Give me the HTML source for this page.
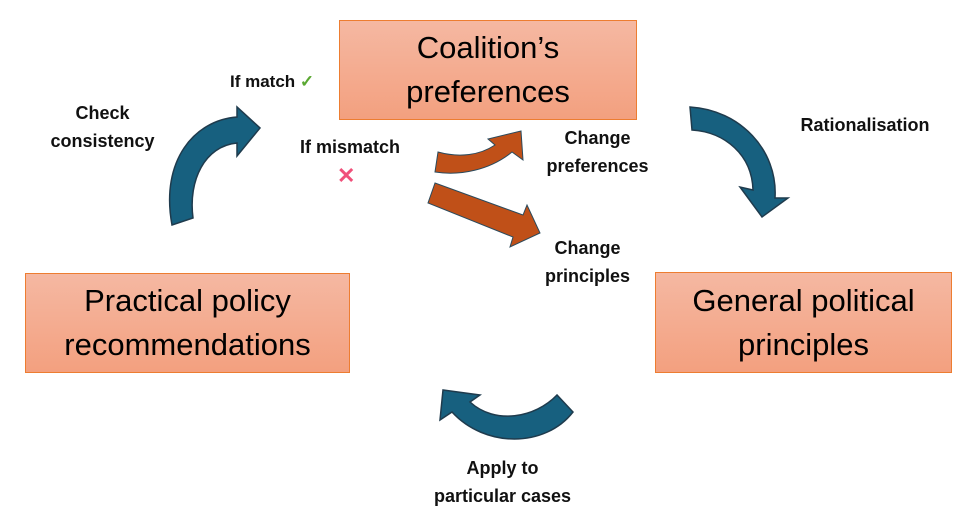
<!DOCTYPE html>
<html><head><style>
body{margin:0;width:969px;height:522px;background:#fff;position:relative;overflow:hidden;font-family:"Liberation Sans",sans-serif}
.box{position:absolute;box-sizing:border-box;border:1.5px solid #ed7d31;background:linear-gradient(#f5b8a2,#f3a07f);display:flex;align-items:center;justify-content:center;text-align:center;font-size:31px;line-height:44px;color:#000}
.l{position:absolute;font-weight:bold;font-size:18px;line-height:28px;text-align:center;color:#111}
</style></head><body>
<div class="box" style="left:339px;top:20px;width:298px;height:100px">Coalition’s<br>preferences</div>
<div class="box" style="left:25px;top:273px;width:325px;height:100px">Practical policy<br>recommendations</div>
<div class="box" style="left:655px;top:272px;width:297px;height:101px">General political<br>principles</div>
<svg width="969" height="522" style="position:absolute;left:0;top:0">
<g stroke="#1f3b4d" stroke-width="1.5" fill="#17607f">
<path d="M172,225 C160,160 195,120 237,117 L237,107 L260,128 L237,156 L237,143 C205,146 188,180 193,218 Z"/>
<path d="M690,107 C740,110 778,150 775,198 L788,198 L762,217 L740,187 L753,190 C752,155 725,132 692,130 Z"/>
<path d="M557,395 C535,418 495,425 470,402 L480,395 L443,390 L440,420 L452,412 C485,448 545,448 573,412 Z"/>
</g>
<g stroke="#2b4a5c" stroke-width="1" fill="#c05018">
<path d="M435,172 L438,152 C460,158 480,155 495,145 L488,139 L521,131 L523,160 L512,152 C490,170 460,176 435,172 Z"/>
<polygon points="435,183 523,215 527,205 540,233 510,247 513,237 428,203"/>
</g>
</svg>
<div class="l" style="left:230px;top:68px;font-size:17px">If match <span style="color:#5aa832">✓</span></div>
<div class="l" style="left:30px;top:99px;width:145px">Check<br>consistency</div>
<div class="l" style="left:280px;top:133px;width:140px">If mismatch</div>
<div class="l" style="left:337px;top:162px;color:#f0507a;font-size:22px">✕</div>
<div class="l" style="left:525px;top:124px;width:145px">Change<br>preferences</div>
<div class="l" style="left:780px;top:111px;width:170px">Rationalisation</div>
<div class="l" style="left:525px;top:234px;width:125px">Change<br>principles</div>
<div class="l" style="left:410px;top:454px;width:185px">Apply to<br>particular cases</div>
</body></html>
